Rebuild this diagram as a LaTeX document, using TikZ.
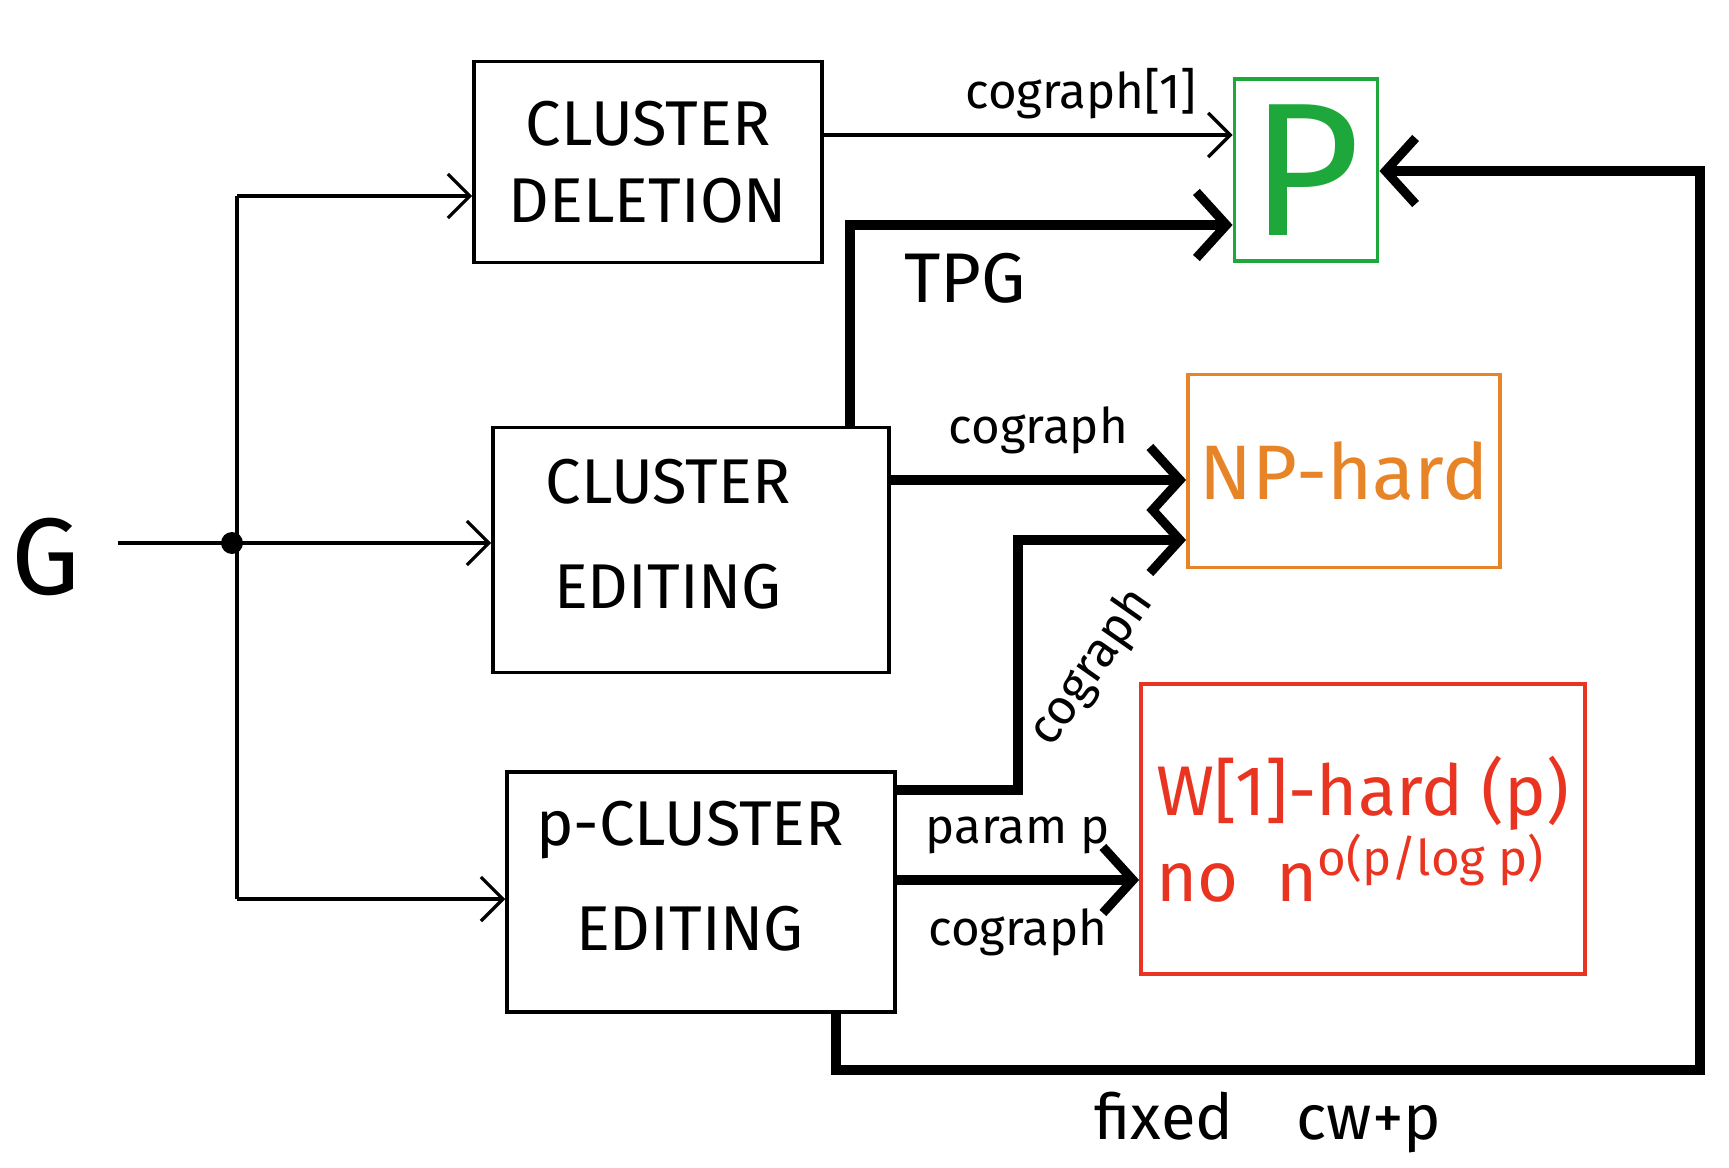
\documentclass[tikz,border=0pt]{standalone}
\usepackage{fontspec}
\setmainfont{Fira Sans}
\usetikzlibrary{arrows.meta}
\definecolor{pgreen}{RGB}{30,168,60}
\definecolor{nporange}{RGB}{232,132,40}
\definecolor{wred}{RGB}{232,52,32}
\tikzset{
  probbox/.style={draw, line width=1pt, inner sep=0pt},
  probtext/.style={align=center, inner sep=0pt, font=\fontsize{18}{30}\selectfont},
  classbox/.style={draw, line width=1.1pt, inner sep=0pt, align=center},
  thin/.style={line width=0.95pt, -{Straight Barb[length=2.2mm,width=4.4mm,line width=0.95pt]}},
  thick/.style={line width=2.6pt, -{Straight Barb[length=3mm,width=6.6mm,line width=2.6pt]}},
  lbl/.style={font=\fontsize{14}{16}\selectfont, inner sep=1pt},
}
\begin{document}
\begin{tikzpicture}[x=0.1mm,y=-0.1mm]
\useasboundingbox (0,0) rectangle (1729,1168);

% input graph and problem variants
\node (G) at (46,557) {\fontsize{31}{31}\selectfont G};
\node[probbox, minimum width=34.8mm, minimum height=20.1mm] (cd) at (648,162) {};
\node[probtext, font=\fontsize{18}{22}\selectfont] (cdtext) at (cd.center)
  {CLUSTER\\DELETION};
\node[probbox, minimum width=39.6mm, minimum height=24.5mm] (ce) at (691,550) {};
\node[probtext] (cetext) at (668,534) {CLUSTER\\EDITING};
\node[probbox, minimum width=38.8mm, minimum height=24mm] (pce) at (701,892) {};
\node[probtext] (pcetext) at (690,876) {p-CLUSTER\\EDITING};

% complexity outcomes
\node[classbox, draw=pgreen, text=pgreen, minimum width=14.3mm, minimum height=18.2mm]
  (P) at (1306,170) {\fontsize{54}{54}\selectfont P};
\node[classbox, draw=nporange, text=nporange, minimum width=31.2mm, minimum height=19.3mm]
  (NP) at (1344,471) {\fontsize{22}{22}\selectfont NP-hard};
\node[classbox, draw=wred, text=wred, minimum width=44.4mm, minimum height=29mm, align=left]
  (W) at (1363,829) {\fontsize{20}{36}\selectfont W[1]-hard (p)\\
  \fontsize{20}{20}\selectfont no\ \ n\textsuperscript{o(p/log p)}};

% fan-out of the input
\coordinate (j) at (232,543);
\coordinate (jt) at (237,196);
\coordinate (jb) at (237,899);
\fill (j) circle (11);
\draw[line width=0.95pt] (G.east |- j) ++(25,0) -- (j);
\draw[thin] (j) -- (ce.west |- j);
\draw[line width=0.95pt] (jt) -- (jb);
\draw[thin] (jt) -- (cd.west |- jt);
\draw[thin] (jb) -- (pce.west |- jb);

% reductions between problems and classes
\draw[thin] (cd.east |- 0,135) -- node[lbl, above=3pt, xshift=15] {cograph[1]} (P.west |- 0,135);

\coordinate (ceup) at (850,225);
\draw[thick] (ce.north -| ceup) -- (ceup) -- (P.west |- ceup);
\node[font=\fontsize{20}{20}\selectfont] (tpg) at (965,278) {TPG};

\draw[thick] (ce.east |- 0,480) -- node[lbl, above=5pt] {cograph} (NP.west |- 0,480);

\coordinate (pa) at (1018,790);
\coordinate (pb) at (1018,540);
\draw[thick] (pce.east |- pa) -- (pa) -- (pb) -- (NP.west |- pb);
\node[lbl, rotate=55] (cglbl) at (1092,668) {cograph};

\draw[thick] (pce.east |- 0,880) -- node[lbl, above=5pt] {param p}
  node[lbl, below=6pt] {cograph} (W.west |- 0,880);

\coordinate (b1) at (836,1070);
\coordinate (b2) at (1700,1070);
\coordinate (b3) at (1700,171);
\draw[thick] (pce.south -| b1) -- (b1) -- node[lbl, below=4pt, font=\fontsize{18}{18}\selectfont] {fixed\quad cw+p} (b2) -- (b3) -- (P.east |- b3);
\end{tikzpicture}
\end{document}
